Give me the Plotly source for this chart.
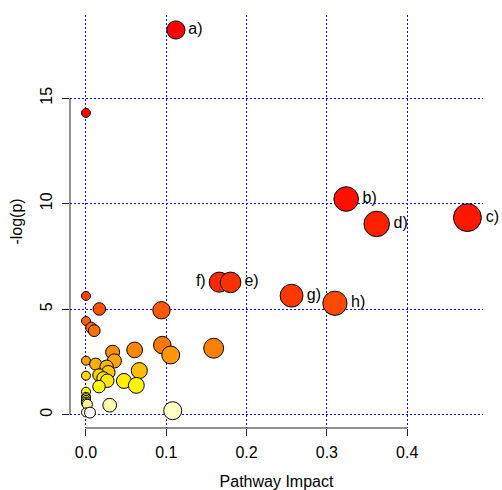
import colorsys
import math
import plotly.graph_objects as go

# Pathway impact (x) and -log(p) (y), ordered by -log(p) decreasing
impact = [0.112, 0.0, 0.324, 0.475, 0.362, 0.166, 0.180, 0.256, 0.0, 0.310,
          0.0166, 0.094, 0.0, 0.0066, 0.0103, 0.095, 0.159, 0.0606, 0.0332, 0.1055,
          0.0, 0.0353, 0.012, 0.0257, 0.0664, 0.0278, 0.0162, 0.0, 0.0216, 0.0265,
          0.0473, 0.0627, 0.0162, 0.0, 0.0, 0.0, 0.0, 0.0, 0.0,
          0.0017, 0.0295, 0.108, 0.0, 0.005]
neglogp = [18.23, 14.30, 10.22, 9.34, 9.04, 6.28, 6.27, 5.64, 5.63, 5.28,
           5.01, 4.95, 4.44, 4.12, 3.98, 3.30, 3.15, 3.07, 2.96, 2.83,
           2.56, 2.55, 2.40, 2.27, 2.09, 2.01, 1.88, 1.85, 1.73, 1.61,
           1.60, 1.39, 1.33, 1.09, 0.85, 0.78, 0.70, 0.62, 0.55,
           0.49, 0.45, 0.19, 0.11, 0.10]
labels = ["a)", "", "b)", "c)", "d)", "f)", "e)", "g)", "", "h)"] + [""] * 34
label_side = ["middle right"] * 5 + ["middle left"] + ["middle right"] * 38

xticks = [0.0, 0.1, 0.2, 0.3, 0.4]
yticks = [0, 5, 10, 15]


def heat_colors(n):
    j = n // 4
    i = n - j
    cols = []
    for k in range(i):
        h = (1 / 6) * k / (i - 1) if i > 1 else 0
        r, g, b = colorsys.hsv_to_rgb(h, 1, 1)
        cols.append((r, g, b))
    for k in range(j):
        s0, s1 = 1 - 1 / (2 * j), 1 / (2 * j)
        s = s0 + (s1 - s0) * k / (j - 1) if j > 1 else s0
        cols.append(colorsys.hsv_to_rgb(1 / 6, s, 1))
    return ["rgb(%d,%d,%d)" % (round(r * 255), round(g * 255), round(b * 255)) for r, g, b in cols]


colors = heat_colors(len(impact))
sizes = [9 + 27.4 * math.sqrt(v) for v in impact]

fig = go.Figure()
fig.add_trace(go.Scatter(
    x=impact, y=neglogp, mode="markers+text",
    text=labels, textposition=label_side,
    textfont=dict(family="Liberation Sans, Arial", size=16, color="black"),
    marker=dict(size=sizes, color=colors, opacity=1,
                line=dict(color="black", width=1)),
    hoverinfo="x+y", showlegend=False, cliponaxis=False,
))

font = dict(family="Liberation Sans, Arial", size=16, color="black")
grid = dict(showgrid=True, gridcolor="#0000FF", griddash="2px,2px", gridwidth=1,
            zeroline=False, showline=False, automargin=False,
            ticks="outside", ticklen=7, tickcolor="#222", tickwidth=1)
fig.update_layout(
    width=502, height=490,
    margin=dict(l=70, r=19, t=15, b=62),
    plot_bgcolor="white", paper_bgcolor="white",
    font=font,
    xaxis=dict(range=[-0.0199, 0.4944], tickvals=xticks,
               ticktext=["0.0", "0.1", "0.2", "0.3", "0.4"],
               ticklabelstandoff=3,
               title=dict(text="Pathway Impact", font=font, standoff=20), **grid),
    yaxis=dict(range=[-0.63, 18.94], tickvals=yticks, tickangle=-90,
               ticklabelstandoff=4,
               title=dict(text="-log(p)", font=font, standoff=10), **grid),
    shapes=[
        dict(type="line", xref="x", yref="paper", x0=xticks[0], x1=xticks[-1], y0=0, y1=0,
             line=dict(color="#222", width=1)),
        dict(type="line", xref="paper", yref="y", x0=0, x1=0, y0=yticks[0], y1=yticks[-1],
             line=dict(color="#222", width=1)),
    ],
)

fig.write_html("out.html", config={"displayModeBar": False},
               post_script="document.body.style.margin='0';document.body.style.overflow='hidden';")
